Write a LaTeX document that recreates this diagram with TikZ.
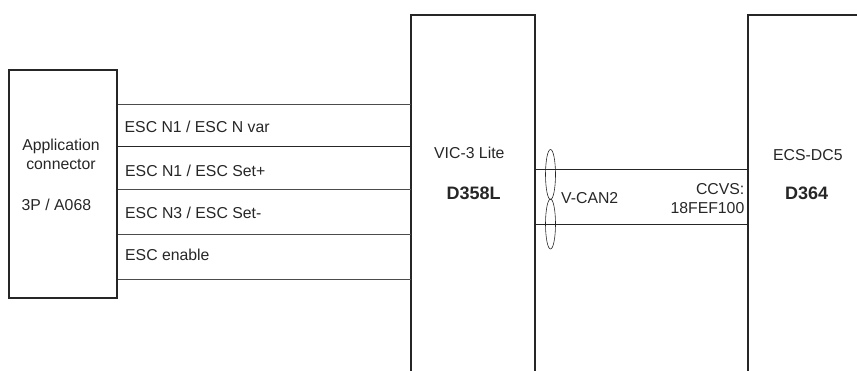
\documentclass[tikz,border=0pt]{standalone}
\usepackage{fontspec}
\setmainfont{Liberation Sans}
\tikzset{
    unit/.style={draw=black!85, line width=1.6pt, minimum width=108pt, minimum height=228pt, inner sep=0pt},
    area/.style={minimum width=123.4pt, minimum height=370pt, inner sep=0pt},
    wall/.style={draw=black!85, line width=1.8pt},
    wire/.style={draw=black!70, line width=0.9pt},
    bus/.style={draw=black!85, line width=0.8pt},
    twist/.style={draw=black!85, line width=0.6pt, ellipse, minimum width=10pt, minimum height=50pt, inner sep=0pt},
    txt/.style={inner sep=0pt, font=\fontsize{15.8}{19}\selectfont, text=black!85},
    bold/.style={txt, font=\fontsize{18}{20}\selectfont\bfseries}
}
\usetikzlibrary{shapes.geometric}
\begin{document}
\begin{tikzpicture}[x=1pt, y=-1pt]
    \useasboundingbox (0,0) rectangle (857,370);

    % Steuergeraete
    \node[unit] (conn) at (63,184) {};
    \node[area, anchor=north west] (vic) at (411,15) {};
    \node[area, anchor=north west, minimum width=109pt] (ecs) at (748,15) {};
    \draw[wall] (vic.south west) -- (vic.north west) -- (vic.north east) -- (vic.south east);
    \draw[wall] (ecs.south west) -- (ecs.north west) -- (ecs.north east);

    % Leitungen
    \draw[wire] (conn.east |- 0,104) -- (vic.west |- 0,104);
    \draw[bus]  (conn.east |- 0,146) -- (vic.west |- 0,146);
    \draw[wire] (conn.east |- 0,189) -- (vic.west |- 0,189);
    \draw[wire] (conn.east |- 0,234) -- (vic.west |- 0,234);
    \draw[wire] (conn.east |- 0,279) -- (vic.west |- 0,279);

    % CAN-Bus
    \draw[bus] (vic.east |- 0,169) -- (ecs.west |- 0,169);
    \draw[bus] (vic.east |- 0,224) -- (ecs.west |- 0,224);
    \node[twist] (loopa) at (550.5,174.5) {};
    \node[twist] (loopb) at (550.5,224) {};

    % Beschriftung
    \node[txt, align=center] (conntxt) at (61,154) {Application\\connector};
    \node[txt, anchor=west] (connpin) at (21.5,205) {3P / A068};
    \node[txt, anchor=west] (sigone) at (124.5,127) {ESC N1 / ESC N var};
    \node[txt, anchor=west] (sigtwo) at (125,171) {ESC N1 / ESC Set+};
    \node[txt, anchor=west] (sigthree) at (125,212.5) {ESC N3 / ESC Set-};
    \node[txt, anchor=west] (sigfour) at (125,254.5) {ESC enable};
    \node[txt, anchor=west] (vicname) at (434,153) {VIC-3 Lite};
    \node[bold, anchor=west] (vicid) at (446.5,193.5) {D358L};
    \node[txt, anchor=west] (canname) at (561,198) {V-CAN2};
    \node[txt, align=right, anchor=east] (ccvs) at (744.5,199) {CCVS:\\18FEF100};
    \node[txt, anchor=west] (ecsname) at (773,155) {ECS-DC5};
    \node[bold, anchor=west] (ecsid) at (785,193.5) {D364};
\end{tikzpicture}
\end{document}
